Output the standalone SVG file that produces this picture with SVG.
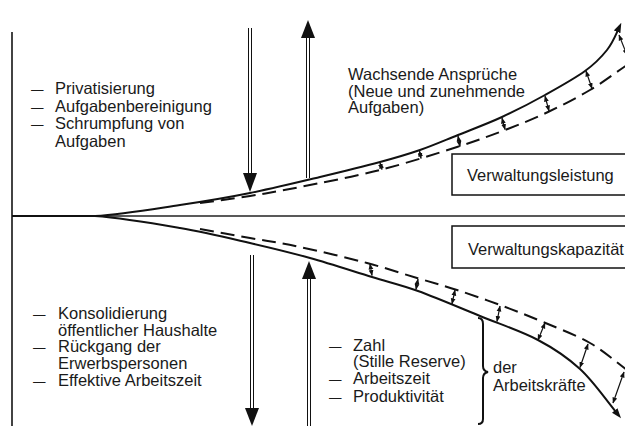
<svg xmlns="http://www.w3.org/2000/svg" width="625" height="426" viewBox="0 0 625 426">
<defs>
<marker id="tip" markerUnits="userSpaceOnUse" markerWidth="6" markerHeight="6" viewBox="0 0 6 6" refX="5.5" refY="3" orient="auto-start-reverse"><path d="M0,0.6 L6,3 L0,5.4 z" fill="#111"/></marker>
<marker id="endhead" markerUnits="userSpaceOnUse" markerWidth="10" markerHeight="8" viewBox="0 0 10 8" refX="2" refY="4" orient="auto"><path d="M0,0.5 L10,4 L0,7.5 z" fill="#111"/></marker>
</defs>
<style>
.ax{stroke:#222;stroke-width:1.7;fill:none}
.cv{stroke:#111;stroke-width:2;fill:none}
.dc{stroke:#111;stroke-width:2;fill:none;stroke-dasharray:14 7}
.sm{stroke:#111;stroke-width:1.2;fill:none;marker-start:url(#tip);marker-end:url(#tip)}
.sh{stroke:#111;stroke-width:1}
.hd{fill:#111}
.bx{fill:#fff;stroke:#111;stroke-width:1.5}
.br{stroke:#111;stroke-width:2;fill:none}
text{font-family:"Liberation Sans",Arial,sans-serif;font-size:16.5px;fill:#1a1a1a}
.d{font-size:12.5px}
</style>
<g id="axes">
<line class="ax" x1="12" y1="32" x2="12" y2="426"/>
<line class="ax" x1="12" y1="216" x2="625" y2="216"/>
</g>
<g id="connectors">
<path id="upper-solid" class="cv" marker-end="url(#endhead)" d="M12,216 L95,216 C123,214.2 154.2,208.8 180,205 C205.8,201.2 226.7,197.7 250,193 C273.3,188.3 298.3,182.2 320,177 C341.7,171.8 363.3,166.5 380,162 C396.7,157.5 407,154.5 420,150 C433,145.5 444.3,140.5 458,135 C471.7,129.5 487.5,123.7 502,117 C516.5,110.3 531.2,102.7 545,95 C558.8,87.3 574.7,78.5 585,71 C595.3,63.5 601.7,56.7 607,50 C612.3,43.3 614.7,37.3 618,30"/>
<path id="upper-dashed" class="dc" d="M200,203 C216.7,200.7 233.3,198.7 250,196 C266.7,193.3 278.3,191.3 300,187 C321.7,182.7 353.8,176.7 380,170 C406.2,163.3 436.2,153.7 457,147 C477.8,140.3 489.8,135.8 505,130 C520.2,124.2 533.8,118.7 548,112 C562.2,105.3 576.8,97.8 590,90 C603.2,82.2 614.7,73.3 627,65"/>
<path id="lower-solid" class="cv" marker-end="url(#endhead)" d="M12,216 L95,216 C123,218 154.2,223.5 180,228 C205.8,232.5 228.3,238 250,243 C271.7,248 289.7,252.3 310,258 C330.3,263.7 354,271.5 372,277 C390,282.5 400,284.5 418,291 C436,297.5 460,307.8 480,316 C500,324.2 521.3,331.2 538,340 C554.7,348.8 567.2,357.3 580,369 C592.8,380.7 603.3,396.3 616,412"/>
<path id="lower-dashed" class="dc" d="M200,229 C216.7,232 233.3,235 250,238 C266.7,241 280.5,242.8 300,247 C319.5,251.2 347.5,257.8 367,263 C386.5,268.2 402,273.5 417,278 C432,282.5 443.2,285.5 457,290 C470.8,294.5 485.7,299.7 500,305 C514.3,310.3 528,315.7 543,322 C558,328.3 576,335 590,343 C604,351 614.7,361 627,370"/>
<g id="gap-arrows-upper">
<line class="sm" x1="380" y1="163" x2="382" y2="169.5"/>
<line class="sm" x1="419.5" y1="151" x2="421" y2="158.5"/>
<line class="sm" x1="458" y1="136" x2="460" y2="146.5"/>
<line class="sm" x1="502" y1="118" x2="505" y2="129.5"/>
<line class="sm" x1="545" y1="96" x2="549" y2="111"/>
<line class="sm" x1="586" y1="71" x2="592" y2="88.5"/>
<line class="sm" x1="619" y1="35" x2="627" y2="55"/>
</g>
<g id="gap-arrows-lower">
<line class="sm" x1="370" y1="264" x2="372" y2="275.5"/>
<line class="sm" x1="418" y1="279" x2="416" y2="289.5"/>
<line class="sm" x1="455" y1="290" x2="452" y2="304"/>
<line class="sm" x1="500" y1="306" x2="497" y2="321.5"/>
<line class="sm" x1="545" y1="323" x2="538" y2="340"/>
<line class="sm" x1="588" y1="344" x2="580" y2="367.5"/>
<line class="sm" x1="624" y1="372" x2="613" y2="403"/>
</g>
<g id="arrow-down-upper">
<line class="sh" x1="248.5" y1="28" x2="248.5" y2="175"/>
<line class="sh" x1="251.5" y1="28" x2="251.5" y2="175"/>
<polygon class="hd" points="243,173 257,173 250,192"/>
</g>
<g id="arrow-up-upper">
<line class="sh" x1="306.5" y1="36" x2="306.5" y2="178"/>
<line class="sh" x1="309.5" y1="36" x2="309.5" y2="178"/>
<polygon class="hd" points="301,38 315,38 308,20"/>
</g>
<g id="arrow-down-lower">
<line class="sh" x1="250.5" y1="255" x2="250.5" y2="410"/>
<line class="sh" x1="253.5" y1="255" x2="253.5" y2="410"/>
<polygon class="hd" points="245,408 259,408 252,426"/>
</g>
<g id="arrow-up-lower">
<line class="sh" x1="307.5" y1="277" x2="307.5" y2="426"/>
<line class="sh" x1="310.5" y1="277" x2="310.5" y2="426"/>
<polygon class="hd" points="302,279 316,279 309,261"/>
</g>
<path id="brace" class="br" d="M478,318 Q483,318 483,324 L483,366 Q483,371 488,372 Q483,373 483,378 L483,419 Q483,424 478,424"/>
</g>
<g id="box-leistung">
<rect class="bx" x="452" y="154" width="180" height="41"/>
<text x="467" y="181">Verwaltungsleistung</text>
</g>
<g id="box-kapazitaet">
<rect class="bx" x="452" y="226" width="180" height="42"/>
<text x="468" y="255">Verwaltungskapazität</text>
</g>
<g id="list-upper-left">
<text><tspan class="d" x="31" y="94">—</tspan><tspan x="55" y="94">Privatisierung</tspan></text>
<text><tspan class="d" x="31" y="111.5">—</tspan><tspan x="55" y="111.5">Aufgabenbereinigung</tspan></text>
<text><tspan class="d" x="31" y="129">—</tspan><tspan x="55" y="129">Schrumpfung von</tspan></text>
<text x="55" y="146.5">Aufgaben</text>
</g>
<g id="label-ansprueche">
<text x="348" y="80">Wachsende Ansprüche</text>
<text x="348" y="96.5">(Neue und zunehmende</text>
<text x="348" y="113">Aufgaben)</text>
</g>
<g id="list-lower-left">
<text><tspan class="d" x="33" y="319">—</tspan><tspan x="58" y="319">Konsolidierung</tspan></text>
<text x="58" y="335.5">öffentlicher Haushalte</text>
<text><tspan class="d" x="33" y="352">—</tspan><tspan x="58" y="352">Rückgang der</tspan></text>
<text x="58" y="369">Erwerbspersonen</text>
<text><tspan class="d" x="33" y="386">—</tspan><tspan x="58" y="386">Effektive Arbeitszeit</tspan></text>
</g>
<g id="list-lower-middle">
<text><tspan class="d" x="329" y="350.5">—</tspan><tspan x="353" y="350.5">Zahl</tspan></text>
<text x="353" y="367">(Stille Reserve)</text>
<text><tspan class="d" x="329" y="384">—</tspan><tspan x="353" y="384">Arbeitszeit</tspan></text>
<text><tspan class="d" x="329" y="401.5">—</tspan><tspan x="353" y="401.5">Produktivität</tspan></text>
</g>
<g id="label-arbeitskraefte">
<text x="493" y="373">der</text>
<text x="493" y="391">Arbeitskräfte</text>
</g>
</svg>
